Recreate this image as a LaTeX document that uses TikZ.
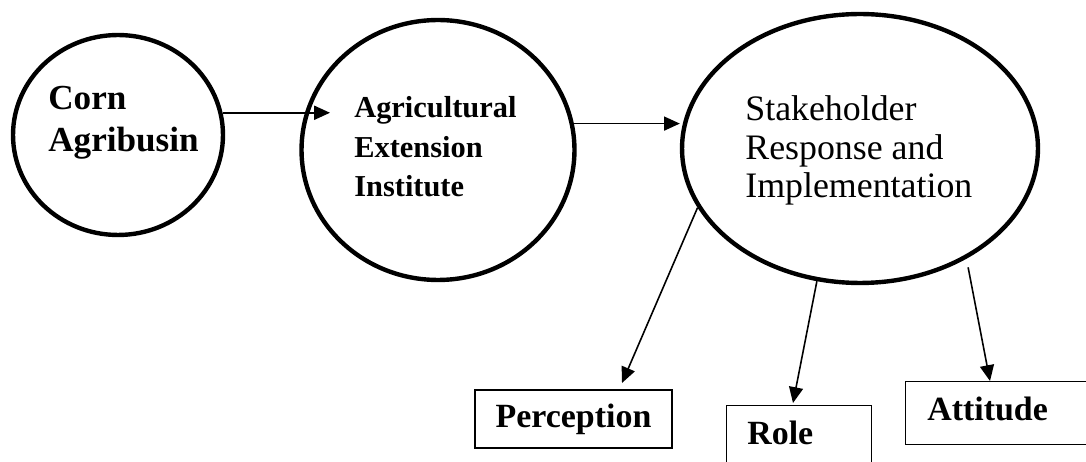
\documentclass[tikz,border=0pt]{standalone}
\usepackage{fontspec}
\setmainfont{Liberation Serif}
\usetikzlibrary{shapes.geometric,arrows.meta}

\begin{document}
\begin{tikzpicture}[x=0.02cm,y=-0.02cm,
        bubble/.style={draw, ellipse, line width=2.5pt, inner sep=0pt},
        lbox/.style={draw, rectangle, line width=0.6pt, inner sep=0pt},
        conn/.style={-{Triangle[length=9pt,width=8pt]}, line width=0.9pt},
        boldtxt/.style={font=\fontsize{19.3}{24.4}\selectfont\bfseries, inner sep=0pt, align=left}]
    \useasboundingbox (0,0) rectangle (1086,462);
    \clip (0,0) rectangle (1086,462);

    % the three bubbles
    \node[bubble, minimum width=4.2cm, minimum height=4cm] (corn) at (118,135) {};
    \node[bubble, minimum width=5.46cm, minimum height=5.2cm] (agri) at (438,150) {};
    \node[bubble, minimum width=7.12cm, minimum height=5.38cm] (stake) at (860,148.5) {};

    \node[boldtxt, anchor=base west, font=\fontsize{20}{24.4}\selectfont\bfseries] (cornlbl) at (48,152) {Corn\\Agribusin};
    \node[boldtxt, anchor=base west, font=\fontsize{17.3}{22.7}\selectfont\bfseries] (agrilbl) at (354,197) {Agricultural\\Extension\\Institute};
    \node[anchor=base west, inner sep=0pt, align=left, font=\fontsize{20.4}{22.1}\selectfont] (stakelbl) at (745,198) {Stakeholder\\Response and\\Implementation};

    % boxes at the bottom
    \node[lbox, minimum width=3.94cm, minimum height=1.16cm, boldtxt] (perc) at (573.5,419) {Perception};
    \node[lbox, anchor=north west, minimum width=2.9cm, minimum height=2cm] (role) at (726,405) {};
    \node[lbox, anchor=north west, minimum width=4cm, minimum height=1.26cm] (att) at (905,381) {};
    \node[boldtxt, anchor=base west] (rolelbl) at (747,445) {Role};
    \node[boldtxt, anchor=base west] (attlbl) at (927,421) {Attitude};

    % arrow tips
    \coordinate (agritip) at (330,113);
    \coordinate (perctip) at (622,383);
    \coordinate (roletip) at (793,403);
    \coordinate (atttip) at (990,381);

    \draw[conn] (corn.12) -- (corn.12 -| agritip);
    \draw[conn] (agri.11) -- (agri.11 -| stake.west);
    \draw[conn] (stake.200) -- (perctip);
    \draw[conn] (stake.252) -- (roletip);
    \draw[conn, shorten <=5pt] (stake.-46) -- (atttip);
\end{tikzpicture}
\end{document}
